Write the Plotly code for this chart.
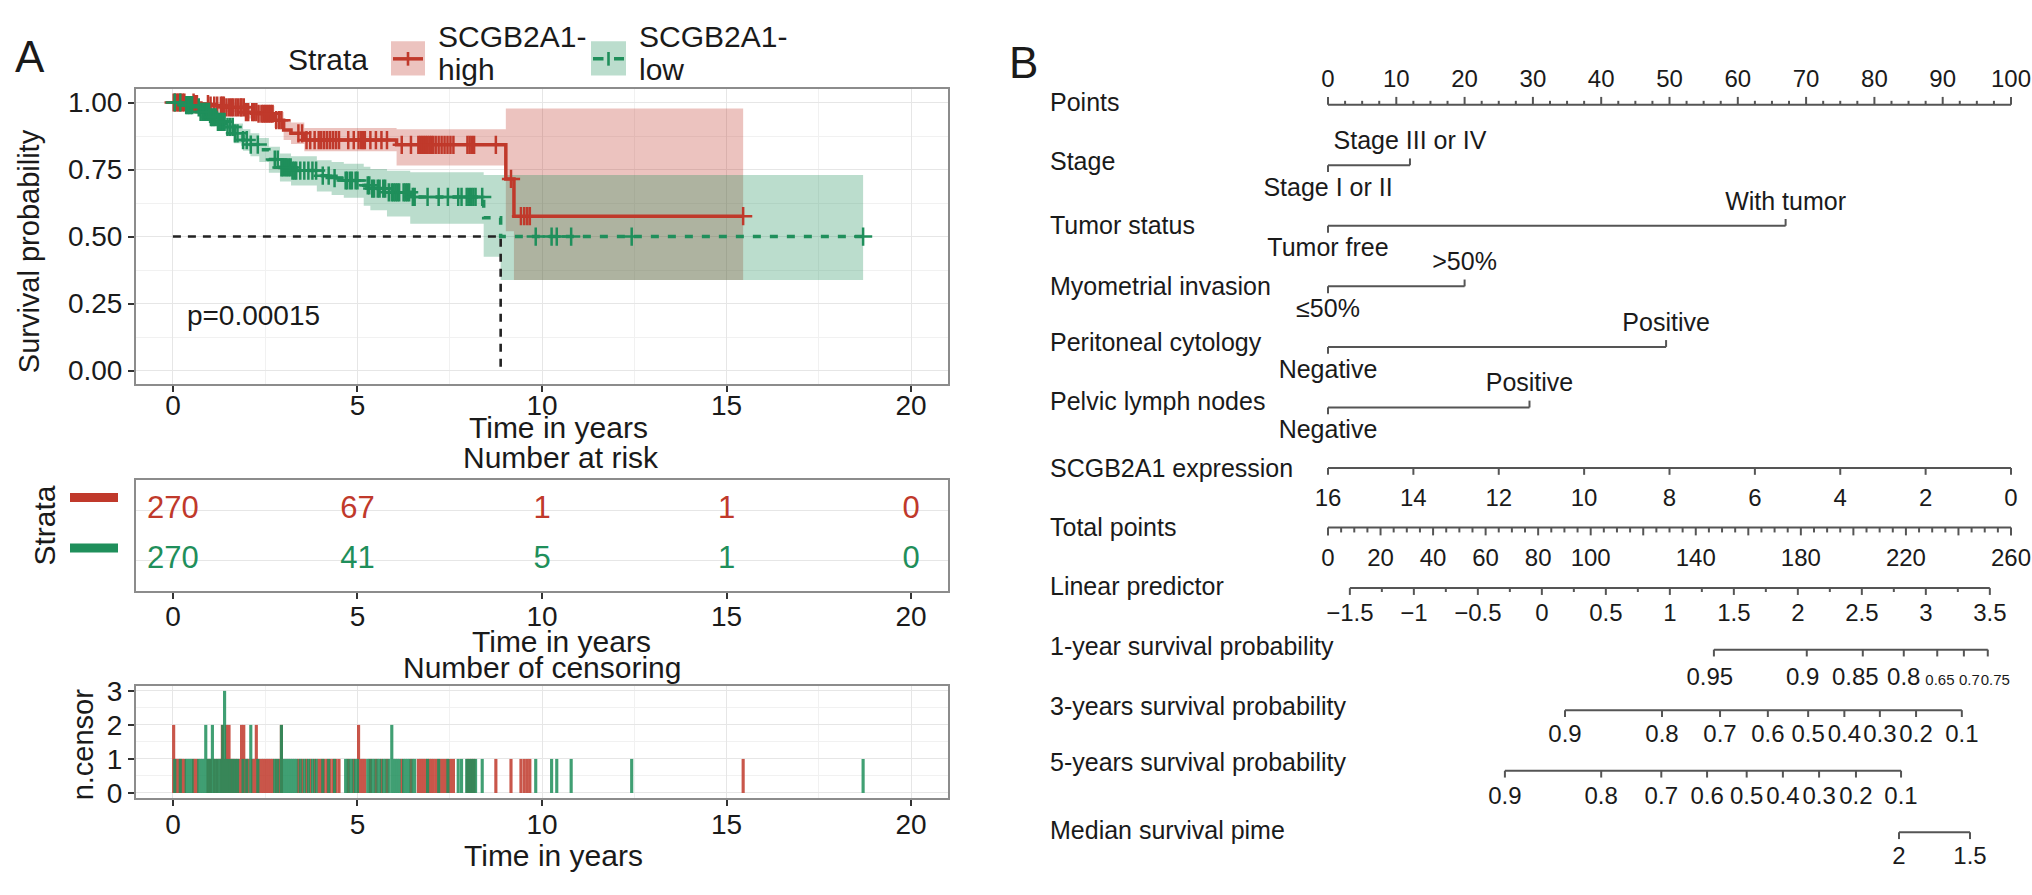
import numpy as np
import plotly.graph_objects as go

W, H = 2032, 895
RED = "#C0392B"
GREEN = "#1F8F5B"
RED_FILL = "rgba(192,57,43,0.30)"
GREEN_FILL = "rgba(31,143,91,0.30)"
FONT = "Liberation Sans, Arial, Helvetica, sans-serif"
INK = "#1a1a1a"
NOMO_LINE = "#555555"

# ---------------- Panel A: Kaplan-Meier data ----------------
time_ticks = [0, 5, 10, 15, 20]

high_t = [0, 0.6, 1.0, 1.4, 1.95, 2.3, 2.75, 3.0, 3.2, 3.56, 6.06, 9.02, 9.24]
high_s = [1.0, 0.994, 0.988, 0.982, 0.964, 0.958, 0.934, 0.897, 0.885, 0.86, 0.842, 0.715, 0.576]
high_lo = [1.0, 0.985, 0.975, 0.965, 0.94, 0.93, 0.905, 0.86, 0.845, 0.818, 0.765, 0.52, 0.338]
high_hi = [1.0, 1.0, 1.0, 0.998, 0.99, 0.987, 0.965, 0.935, 0.925, 0.905, 0.9, 0.978, 0.978]
high_end = 15.45

low_t = [0, 0.3, 0.54, 0.75, 0.99, 1.2, 1.44, 1.65, 1.9, 2.1, 2.34, 2.6, 2.9, 3.2,
         3.9, 4.3, 4.63, 5.17, 5.35, 5.8, 6.43, 8.42, 8.88]
low_s = [1.0, 0.99, 0.982, 0.965, 0.945, 0.928, 0.909, 0.885, 0.86, 0.843, 0.824, 0.787,
         0.758, 0.746, 0.727, 0.718, 0.709, 0.691, 0.679, 0.665, 0.648, 0.57, 0.5]
low_lo = [1.0, 0.978, 0.965, 0.942, 0.918, 0.898, 0.875, 0.848, 0.82, 0.8, 0.778, 0.738,
          0.705, 0.69, 0.668, 0.655, 0.645, 0.615, 0.598, 0.575, 0.548, 0.425, 0.338]
low_hi = [1.0, 1.0, 0.996, 0.985, 0.97, 0.958, 0.942, 0.922, 0.9, 0.885, 0.868, 0.835,
          0.81, 0.8, 0.785, 0.778, 0.772, 0.76, 0.752, 0.745, 0.74, 0.73, 0.73]
low_end = 18.7

high_censor_t = [0.02, 0.06, 0.10, 0.14, 0.18, 0.22, 0.27, 0.31, 0.56, 0.60, 0.65, 0.95, 1.02,
                 1.12, 1.20, 1.30, 1.34, 1.38, 1.45, 1.52, 1.58, 1.63, 1.70, 1.76, 1.83, 1.86,
                 1.92, 1.98, 2.04, 2.15, 2.20, 2.26, 2.32, 2.40, 2.45, 2.50, 2.55, 2.60, 2.65,
                 2.70, 2.80, 2.88, 2.94, 3.40, 3.50, 3.62, 3.72, 3.84, 3.95, 4.02, 4.10, 4.18,
                 4.26, 4.34, 4.42, 4.50, 4.75, 4.90, 5.03, 5.10, 5.15, 5.20, 5.35, 5.50, 5.65,
                 5.80, 6.20, 6.45, 6.65, 6.70, 6.75, 6.80, 6.85, 6.90, 6.95, 7.00, 7.05, 7.12,
                 7.20, 7.28, 7.36, 7.44, 7.52, 7.60, 7.98, 8.04, 8.10, 8.16, 8.75, 9.16, 9.43,
                 9.52, 9.60, 9.67, 15.45]
high_censor_n = [2, 1, 1, 1, 1, 1, 1, 1, 1, 1, 1, 1, 1,
                 1, 1, 1, 2, 1, 2, 2, 1, 1, 1, 1, 1, 2,
                 2, 1, 1, 1, 1, 2, 1, 1, 1, 1, 1, 1, 1,
                 1, 1, 1, 2, 1, 1, 1, 1, 1, 1, 1, 1, 1,
                 1, 1, 1, 1, 1, 1, 2, 1, 1, 1, 1, 1, 1,
                 1, 1, 1, 1, 1, 1, 1, 1, 1, 1, 1, 1, 1,
                 1, 1, 1, 1, 1, 1, 1, 1, 1, 1, 1, 1, 1,
                 1, 1, 1, 1]

low_censor_t = [0.05, 0.20, 0.36, 0.40, 0.44, 0.48, 0.52, 0.70, 0.75, 0.80, 0.85, 0.89, 0.93,
                0.98, 1.03, 1.07, 1.11, 1.16, 1.22, 1.26, 1.30, 1.35, 1.40, 1.48, 1.55, 1.62,
                1.68, 1.75, 1.90, 2.00, 2.11, 2.30, 2.76, 2.84, 2.94, 2.98, 3.04, 3.09, 3.14,
                3.19, 3.24, 3.29, 3.34, 3.45, 3.56, 3.67, 3.78, 3.88, 4.06, 4.22, 4.38, 4.68,
                4.72, 4.80, 4.85, 4.95, 5.00, 5.28, 5.32, 5.40, 5.45, 5.55, 5.60, 5.70, 5.75,
                5.85, 5.93, 5.98, 6.03, 6.08, 6.13, 6.25, 6.30, 6.35, 6.40, 6.50, 6.55, 6.90,
                7.20, 7.45, 7.73, 7.82, 7.96, 8.02, 8.08, 8.14, 8.20, 8.38, 9.83, 10.26, 10.40,
                10.79, 12.43, 18.70]
low_censor_n = [1, 1, 1, 1, 1, 1, 1, 1, 1, 1, 1, 2, 1,
                1, 1, 2, 1, 1, 1, 1, 1, 2, 3, 1, 1, 1,
                1, 1, 1, 1, 2, 1, 1, 1, 2, 1, 1, 1, 1,
                1, 1, 1, 1, 1, 1, 1, 1, 1, 1, 1, 1, 1,
                1, 1, 1, 1, 1, 1, 1, 1, 1, 1, 1, 1, 1,
                1, 2, 1, 1, 1, 1, 1, 1, 1, 1, 1, 1, 1,
                1, 1, 1, 1, 1, 1, 1, 1, 1, 1, 1, 1, 1,
                1, 1, 1]

risk_high = [270, 67, 1, 1, 0]
risk_low = [270, 41, 5, 1, 0]
p_text = "p=0.00015"
legend_names = [("SCGB2A1-", "high"), ("SCGB2A1-", "low")]

# ---------------- Panel B: nomogram data (on the "Points" scale) ----------------
points_major = [0, 10, 20, 30, 40, 50, 60, 70, 80, 90, 100]
points_minor_step = 2.5

stage_levels = ["Stage I or II", "Stage III or IV"]
stage_points = [0, 12]
tumor_levels = ["Tumor free", "With tumor"]
tumor_points = [0, 67]
myo_levels = ["\u226450%", ">50%"]
myo_points = [0, 20]
cyto_levels = ["Negative", "Positive"]
cyto_points = [0, 49.5]
lymph_levels = ["Negative", "Positive"]
lymph_points = [0, 29.5]

expr_ticks = [16, 14, 12, 10, 8, 6, 4, 2, 0]
expr_ref = [0, 16]
expr_ref_points = [100, 0]

total_labels = [0, 20, 40, 60, 80, 100, 140, 180, 220, 260]
total_max = 260

lp_labels = [-1.5, -1, -0.5, 0, 0.5, 1, 1.5, 2, 2.5, 3, 3.5]
lp_ref = [-1.5, 3.5]
lp_ref_points = [3.2, 96.9]

surv1_ticks = [56.5, 70.1, 78.3, 84.3, 89.2, 93.1, 96.6]
surv1_labels = ["0.95", "0.9", "0.85", "0.8", "0.65", "0.7", "0.75"]
surv1_label_pts = [55.9, 69.5, 77.2, 84.3, 89.6, 93.9, 97.7]
surv3_labels = ["0.9", "0.8", "0.7", "0.6", "0.5", "0.4", "0.3", "0.2", "0.1"]
surv3_points = [34.7, 48.9, 57.4, 64.4, 70.3, 75.6, 80.8, 86.1, 92.8]
surv5_labels = ["0.9", "0.8", "0.7", "0.6", "0.5", "0.4", "0.3", "0.2", "0.1"]
surv5_points = [25.9, 40.0, 48.8, 55.5, 61.3, 66.6, 71.9, 77.3, 83.9]
median_labels = ["2", "1.5"]
median_points = [83.6, 94.0]


def px_x(p):
    return p / W


def px_y(p):
    return 1 - p / H


def surv_at(t_list, s_list, times):
    idx = np.searchsorted(np.array(t_list), np.array(times), side="right") - 1
    return np.array(s_list)[idx]


fig = go.Figure()

# ---------- KM confidence bands ----------
for t, lo, hi, end, fill in [(high_t, high_lo, high_hi, high_end, RED_FILL),
                             (low_t, low_lo, low_hi, low_end, GREEN_FILL)]:
    xs = t + [end]
    fig.add_trace(go.Scatter(x=xs, y=lo + [lo[-1]], mode="lines", line=dict(width=0, shape="hv"),
                             hoverinfo="skip", xaxis="x", yaxis="y"))
    fig.add_trace(go.Scatter(x=xs, y=hi + [hi[-1]], mode="lines", line=dict(width=0, shape="hv"),
                             fill="tonexty", fillcolor=fill, hoverinfo="skip", xaxis="x", yaxis="y"))

# ---------- KM curves ----------
fig.add_trace(go.Scatter(x=high_t + [high_end], y=high_s + [high_s[-1]], mode="lines",
                         line=dict(color=RED, width=3.5, shape="hv"), xaxis="x", yaxis="y"))
fig.add_trace(go.Scatter(x=low_t + [low_end], y=low_s + [low_s[-1]], mode="lines",
                         line=dict(color=GREEN, width=3.5, shape="hv", dash="8px,9px"),
                         xaxis="x", yaxis="y"))

# median survival guide
med_idx = int(np.argmax(np.array(low_s) <= 0.5))
med_t = low_t[med_idx]
fig.add_trace(go.Scatter(x=[0, med_t, med_t], y=[0.5, 0.5, 0], mode="lines",
                         line=dict(color="#222222", width=2.6, dash="8px,7px"),
                         xaxis="x", yaxis="y"))

# censor marks on curves
for t, s, ct, col in [(high_t, high_s, high_censor_t, RED), (low_t, low_s, low_censor_t, GREEN)]:
    fig.add_trace(go.Scatter(x=ct, y=surv_at(t, s, ct), mode="markers",
                             marker=dict(symbol="cross-thin", size=13, line=dict(color=col, width=2.5)),
                             xaxis="x", yaxis="y"))

fig.add_trace(go.Scatter(x=[0.38], y=[0.195], mode="text", text=[p_text], textposition="middle right",
                         textfont=dict(size=28, color=INK, family=FONT), xaxis="x", yaxis="y"))

# ---------- Risk table ----------
for vals, row, col in [(risk_high, 2, RED), (risk_low, 1, GREEN)]:
    fig.add_trace(go.Scatter(x=time_ticks, y=[row] * len(time_ticks), mode="text",
                             text=[str(v) for v in vals], textfont=dict(size=31, color=col, family=FONT),
                             xaxis="x2", yaxis="y2"))

# ---------- Number of censoring ----------
for ct, cn, col in [(high_censor_t, high_censor_n, RED), (low_censor_t, low_censor_n, GREEN)]:
    fig.add_trace(go.Bar(x=ct, y=cn, width=0.085, marker=dict(color=col, line=dict(width=0)),
                         opacity=0.85, xaxis="x3", yaxis="y3"))

# ---------- Nomogram ----------
seg_x, seg_y = [], []
lab_x, lab_y, lab_t, lab_s = [], [], [], []


def seg(x0, y0, x1, y1):
    seg_x.extend([x0, x1, None])
    seg_y.extend([y0, y1, None])


def label(x, y, text, size=24):
    lab_x.append(x)
    lab_y.append(y)
    lab_t.append(text)
    lab_s.append(size)


# Points axis (ticks upwards, labels above)
y_pts = 97
seg(points_major[0], y_pts, points_major[-1], y_pts)
for p in np.arange(0, 100 + 0.01, points_minor_step):
    seg(p, y_pts, p, y_pts - (8 if p % 10 == 0 else 4))
for p in points_major:
    label(p, y_pts - 24, str(p))

# categorical rows
for levels, pts, yl in [(stage_levels, stage_points, 159), (tumor_levels, tumor_points, 221),
                        (myo_levels, myo_points, 283), (cyto_levels, cyto_points, 345),
                        (lymph_levels, lymph_points, 407)]:
    seg(pts[0], yl, pts[1], yl)
    seg(pts[0], yl, pts[0], yl + 7)
    seg(pts[1], yl, pts[1], yl - 7)
    label(pts[0], yl + 25, levels[0], 25)
    label(pts[1], yl - 23, levels[1], 25)

# continuous expression
y_ex = 469
ex_pts = np.interp(expr_ticks, expr_ref, expr_ref_points)
seg(ex_pts.min(), y_ex, ex_pts.max(), y_ex)
for v, p in zip(expr_ticks, ex_pts):
    seg(p, y_ex, p, y_ex + 7)
    label(p, y_ex + 33, str(v))

# total points
y_tp = 530
seg(0, y_tp, 100, y_tp)
for v in range(0, total_max + 1, 5):
    p = v * 100 / total_max
    seg(p, y_tp, p, y_tp + (8 if v % 20 == 0 else 5))
for v in total_labels:
    label(v * 100 / total_max, y_tp + 33, str(v))

# linear predictor
y_lp = 592
lp_all = np.arange(lp_ref[0], lp_ref[1] + 0.001, 0.25)
lp_pts = np.interp(lp_all, lp_ref, lp_ref_points)
seg(lp_pts[0], y_lp, lp_pts[-1], y_lp)
for v, p in zip(lp_all, lp_pts):
    seg(p, y_lp, p, y_lp + (7 if abs(v * 2 - round(v * 2)) < 1e-6 else 4))
for v, p in zip(lp_labels, np.interp(lp_labels, lp_ref, lp_ref_points)):
    label(p, y_lp + 28, ("%g" % v).replace("-", "\u2212"))

# 1-year survival (last three labels are printed small in the original)
y_s1 = 655
seg(min(surv1_ticks), y_s1, max(surv1_ticks), y_s1)
for p in surv1_ticks:
    seg(p, y_s1, p, y_s1 + 7)
for i, (t, p) in enumerate(zip(surv1_labels, surv1_label_pts)):
    label(p, y_s1 + (32 if i >= 4 else 30), t, 15 if i >= 4 else 24)

for labels, pts, yl, dy in [(surv3_labels, surv3_points, 717, 26), (surv5_labels, surv5_points, 779, 28),
                            (median_labels, median_points, 842, 26)]:
    seg(min(pts), yl, max(pts), yl)
    for t, p in zip(labels, pts):
        seg(p, yl, p, yl + 7)
        label(p, yl + dy, t)

fig.add_trace(go.Scatter(x=seg_x, y=seg_y, mode="lines", line=dict(color=NOMO_LINE, width=2),
                         xaxis="x4", yaxis="y4", hoverinfo="skip"))
fig.add_trace(go.Scatter(x=lab_x, y=lab_y, mode="text", text=lab_t, textposition="middle center",
                         textfont=dict(size=lab_s, color=INK, family=FONT), xaxis="x4", yaxis="y4"))

row_labels = ["Points", "Stage", "Tumor status", "Myometrial invasion", "Peritoneal cytology",
              "Pelvic lymph nodes", "SCGB2A1 expression", "Total points", "Linear predictor",
              "1-year survival probability", "3-years survival probability",
              "5-years survival probability", "Median survival pime"]
row_label_y = [97, 157, 223, 285, 343, 403, 472, 532, 593, 654, 716, 773, 843]
row_x = (1050 - 1328) / 6.83
fig.add_trace(go.Scatter(x=[row_x] * len(row_labels), y=row_label_y, mode="text", text=row_labels,
                         textposition="middle right", textfont=dict(size=25, color=INK, family=FONT),
                         xaxis="x4", yaxis="y4"))

# ---------- titles, panel letters, manual legend ----------
ann = []


def paper_text(x, y, text, size, angle=0, xanchor="center"):
    ann.append(dict(x=px_x(x), y=px_y(y), xref="paper", yref="paper", text=text, showarrow=False,
                    xanchor=xanchor, yanchor="middle", textangle=angle, font=dict(size=size, color=INK)))


paper_text(30, 48, "A", 44)
paper_text(1023, 54, "B", 44)
paper_text(29, 247, "Survival probability", 29, angle=-90)
paper_text(558, 428, "Time in years", 30)
paper_text(561, 458, "Number at risk", 30)
paper_text(45, 528, "Strata", 30, angle=-90)
paper_text(561, 647, "Time in years", 30)
paper_text(542, 673, "Number of censoring", 30)
paper_text(83, 752, "n.censor", 29, angle=-90)
paper_text(553, 866, "Time in years", 30)
paper_text(328, 51, "Strata", 30)

shapes = []
for (x0, x1), col, fill, dash, (l1, l2) in [((391, 425), RED, RED_FILL, "solid", legend_names[0]),
                                             ((591, 626), GREEN, GREEN_FILL, "dash", legend_names[1])]:
    shapes.append(dict(type="rect", xref="paper", yref="paper", x0=px_x(x0), x1=px_x(x1),
                       y0=px_y(67), y1=px_y(32), fillcolor=fill, line=dict(width=0)))
    shapes.append(dict(type="line", xref="paper", yref="paper", x0=px_x(x0 + 2), x1=px_x(x1 - 2),
                       y0=px_y(50), y1=px_y(50), line=dict(color=col, width=3.5, dash=dash)))
    xc = (x0 + x1) / 2
    shapes.append(dict(type="line", xref="paper", yref="paper", x0=px_x(xc), x1=px_x(xc),
                       y0=px_y(43), y1=px_y(57), line=dict(color=col, width=2.6)))
    paper_text(x1 + 11, 27, l1, 30, xanchor="left")
    paper_text(x1 + 11, 61, l2, 30, xanchor="left")

# strata colour keys beside the risk table
for row, col in [(2, RED), (1, GREEN)]:
    shapes.append(dict(type="line", xref="paper", yref="y2", x0=px_x(70), x1=px_x(118),
                       y0=row + 0.25, y1=row + 0.25, line=dict(color=col, width=9)))

axis_common = dict(showline=True, mirror=True, linecolor="#8c8c8c", linewidth=2, ticks="outside",
                   ticklen=6, tickwidth=1.5, tickcolor="#333333", tickfont=dict(size=28, color=INK),
                   zeroline=False, gridcolor="#E6E6E6", gridwidth=1.3)
x_common = dict(axis_common, range=[-1, 21], tick0=0, dtick=5,
                domain=[px_x(136), px_x(948)])
minor_x = dict(dtick=2.5, showgrid=True, gridcolor="#F1F1F1", gridwidth=1, ticklen=0)

fig.update_layout(
    width=W, height=H, margin=dict(l=0, r=0, t=0, b=0),
    paper_bgcolor="white", plot_bgcolor="white", showlegend=False, barmode="overlay",
    font=dict(family=FONT, color=INK),
    xaxis=dict(x_common, anchor="y", minor=minor_x, ticklabelstandoff=-11),
    yaxis=dict(axis_common, anchor="x", range=[-0.05, 1.05], tick0=0, dtick=0.25, tickformat=".2f",
               domain=[px_y(383), px_y(81)],
               minor=dict(dtick=0.125, showgrid=True, gridcolor="#F1F1F1", gridwidth=1, ticklen=0)),
    xaxis2=dict(x_common, anchor="y2", showgrid=False, ticklabelstandoff=-7),
    yaxis2=dict(axis_common, anchor="x2", range=[0.4, 2.6], tickvals=[1, 2], showticklabels=False,
                ticks="", domain=[px_y(595), px_y(481)]),
    xaxis3=dict(x_common, anchor="y3", minor=minor_x, ticklabelstandoff=-6),
    yaxis3=dict(axis_common, anchor="x3", range=[-0.15, 3.15], tick0=0, dtick=1,
                domain=[px_y(807), px_y(692)],
                minor=dict(dtick=0.5, showgrid=True, gridcolor="#F1F1F1", gridwidth=1, ticklen=0)),
    xaxis4=dict(domain=[px_x(1000), 1], range=[(1000 - 1328) / 6.83, (2032 - 1328) / 6.83],
                visible=False, anchor="y4"),
    yaxis4=dict(domain=[0, 1], range=[H, 0], visible=False, anchor="x4"),
    annotations=ann, shapes=shapes,
)

fig.write_html("out.html", config={"displayModeBar": False},
               post_script="document.body.style.margin='0';")
